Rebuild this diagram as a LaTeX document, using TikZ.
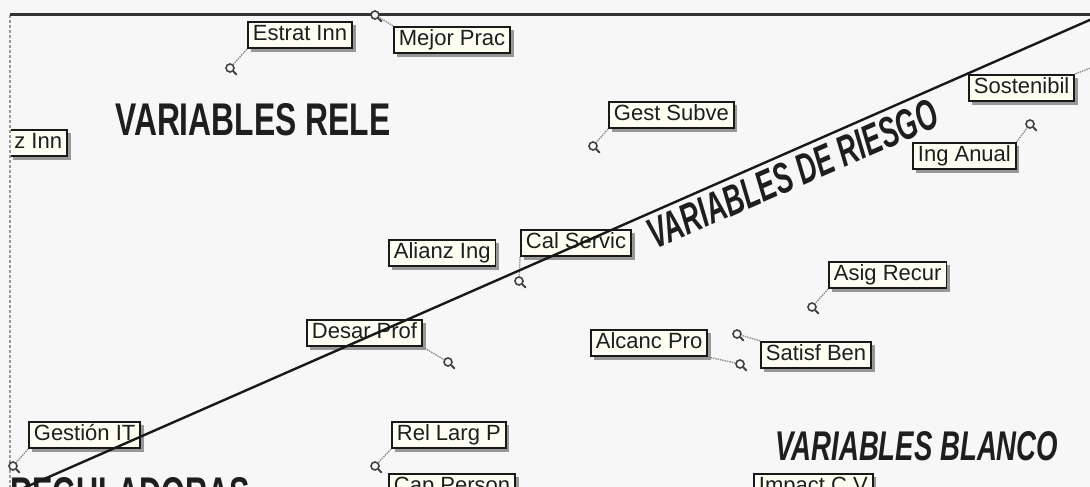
\documentclass[tikz,border=0pt]{standalone}
\usepackage{fontspec}
\usepackage{graphicx}
\setmainfont{Liberation Sans}
\usetikzlibrary{shadows}
\definecolor{bg}{HTML}{F7F7F7}
\definecolor{cream}{HTML}{FDFDF2}
\definecolor{ink}{HTML}{1E1E1E}
\newcommand\lblfont{\fontsize{22}{24}\selectfont}
\newcommand\pintail[1]{\draw[black!75, line width=1.8pt, line cap=round] (#1.south east) -- ++(3,3);}
\tikzset{
  lbl/.style={draw=black!90, line width=1.8pt, fill=cream, text=ink, font=\lblfont,
    inner xsep=5pt, inner ysep=3pt, text height=16pt, text depth=4.5pt,
    drop shadow={shadow xshift=3.5pt, shadow yshift=-3.5pt, fill=black!60, opacity=0.65}},
  pinmark/.style={circle, draw=black!75, line width=1.6pt, fill=bg, minimum size=8pt, inner sep=0pt},
  pinlink/.style={draw=black!45, line width=1.4pt, densely dotted},
  bigtitle/.style={inner sep=0pt, text=ink},
  frameline/.style={draw=black!80, line width=3pt},
  diagline/.style={draw=black!90, line width=2.4pt},
  sideline/.style={draw=black!40, line width=1.2pt, densely dashed},
}
\begin{document}
\begin{tikzpicture}[x=1pt, y=-1pt]
\path[use as bounding box] (0,0) rectangle (1090,487);
\clip (0,0) rectangle (1090,487);
\fill[bg] (0,0) rectangle (1090,487);

% frame lines
\coordinate (lt) at (10,15);
\coordinate (lb) at (10,490);
\coordinate (rt) at (1092,15);
\draw[sideline] (lt) -- (lb);
\draw[frameline] (lt) -- (rt);

% quadrant titles
\node[bigtitle, anchor=north west] (rele) at (115,103)
  {\resizebox{275pt}{32pt}{\bfseries VARIABLES RELE}};
\node[bigtitle, anchor=north west] (blanco) at (775,431)
  {\resizebox{283pt}{29pt}{\bfseries\itshape VARIABLES BLANCO}};
\node[bigtitle, anchor=north west] (regul) at (10,477)
  {\resizebox{240pt}{32pt}{\bfseries REGULADORAS}};

% pin markers
\node[pinmark] (pestrat) at (230,68) {};
\node[pinmark] (pmejor) at (375,15) {};
\node[pinmark] (pgest) at (593,146) {};
\node[pinmark] (ping) at (1030,124) {};
\coordinate (psost) at (1096,66);
\node[pinmark] (pcal) at (519,281) {};
\node[pinmark] (pdesar) at (448,362) {};
\node[pinmark] (prel) at (375,466) {};
\node[pinmark] (pgestion) at (13,466) {};
\node[pinmark] (palcanc) at (740,364) {};
\node[pinmark] (psatisf) at (737,334) {};
\node[pinmark] (pasig) at (812,307) {};
\foreach \p in {pestrat,pmejor,pgest,ping,pcal,pdesar,prel,pgestion,palcanc,psatisf,pasig}
  {\pintail{\p}}

% labels
\begin{scope}
  \clip (11,0) rectangle (1090,487);
  \node[lbl, anchor=east] (zinn) at (68,143) {z Inn};
\end{scope}
\node[lbl, anchor=west] (estrat) at (247,35) {Estrat Inn};
\node[lbl, anchor=west] (mejor) at (393,40) {Mejor Prac};
\node[lbl, anchor=west] (gest) at (608,115) {Gest Subve};
\node[lbl, anchor=west] (sost) at (968,88) {Sostenibil};
\node[lbl, anchor=west] (ing) at (912,156) {Ing Anual};
\node[lbl, anchor=west] (alianz) at (388,253) {Alianz Ing};
\node[lbl, anchor=west] (cal) at (520,243) {Cal Servic};
\node[lbl, anchor=west] (desar) at (306,333) {Desar Prof};
\node[lbl, anchor=west] (rel) at (391,435) {Rel Larg P};
\node[lbl, anchor=west] (cap) at (388,487) {Cap Person};
\node[lbl, anchor=west] (gestion) at (28,435) {Gestión IT};
\node[lbl, anchor=west] (alcanc) at (590,343) {Alcanc Pro};
\node[lbl, anchor=west] (satisf) at (760,355) {Satisf Ben};
\node[lbl, anchor=west] (asig) at (828,275) {Asig Recur};
\node[lbl, anchor=west] (impact) at (753,487) {Impact C.V};

% pin links
\draw[pinlink] (estrat.south west) -- (pestrat);
\draw[pinlink] (mejor.north west) -- (pmejor);
\draw[pinlink] (gest.south west) -- (pgest);
\draw[pinlink] (ing.north east) -- (ping);
\draw[pinlink] (sost.north east) -- (psost);
\draw[pinlink] (cal.south west) -- (pcal);
\draw[pinlink] (desar.south east) -- (pdesar);
\draw[pinlink] (rel.south west) -- (prel);
\draw[pinlink] (gestion.south west) -- (pgestion);
\draw[pinlink] (alcanc.south east) -- (palcanc);
\draw[pinlink] (satisf.north west) -- (psatisf);
\draw[pinlink] (asig.south west) -- (pasig);

% risk diagonal and its caption
\coordinate (dstart) at (10,494);
\coordinate (dend) at (1092,19);
\draw[diagline] (dstart) -- (dend);
\node[bigtitle, anchor=base west, rotate=23.5] (riesgo) at (655,250)
  {\resizebox{312pt}{30pt}{\bfseries\itshape VARIABLES DE RIESGO}};
\end{tikzpicture}
\end{document}
